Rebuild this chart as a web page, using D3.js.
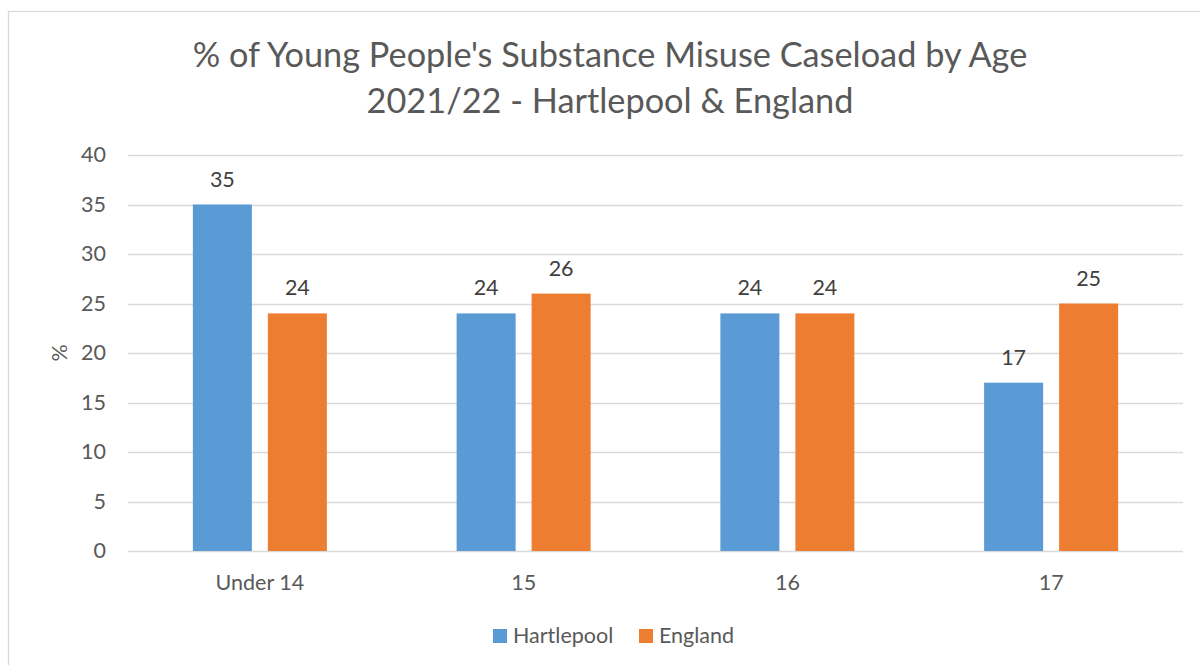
<!DOCTYPE html>
<html>
<head>
<meta charset="utf-8">
<script src="https://cdn.jsdelivr.net/npm/d3@7"></script>
<style>
  html, body { margin: 0; padding: 0; background: #fff; }
  svg { display: block; }
  text { font-family: Lato, "Open Sans", sans-serif; }
</style>
</head>
<body>
<svg id="chart" width="1200" height="665"></svg>
<script>
// Age groups and caseload shares (%)
const categories = ["Under 14", "15", "16", "17"];
const seriesNames = ["Hartlepool", "England"];
const hartlepool = [35, 24, 24, 17];
const england = [24, 26, 24, 25];
const yTicks = [0, 5, 10, 15, 20, 25, 30, 35, 40];
const colors = ["#5b9bd5", "#ed7d31"];

const svg = d3.select("#chart");
const plot = { left: 128, right: 1183, top: 155, bottom: 551 };
const labelFont = 21.5;

// outer chart frame
svg.append("rect")
  .attr("x", 8.5).attr("y", 11.5)
  .attr("width", 1200).attr("height", 700)
  .attr("fill", "#fff").attr("stroke", "#d9d9d9").attr("stroke-width", 1.3);

// title
const title = svg.append("text")
  .attr("text-anchor", "middle")
  .attr("fill", "#595959")
  .attr("font-size", 34.3);
title.append("tspan").attr("x", 610).attr("y", 67).text("% of Young People's Substance Misuse Caseload by Age");
title.append("tspan").attr("x", 610).attr("y", 113).text("2021/22 - Hartlepool & England");

const x = d3.scaleBand().domain(categories).range([plot.left, plot.right]);
const xInner = d3.scaleBand().domain(seriesNames)
  .range([0, x.bandwidth()]).paddingInner(0.213).paddingOuter(0.865);
const y = d3.scaleLinear().domain([0, 40]).range([plot.bottom, plot.top]);

// gridlines
svg.append("g").selectAll("line").data(yTicks).join("line")
  .attr("x1", plot.left).attr("x2", plot.right)
  .attr("y1", d => Math.round(y(d)) + 0.5).attr("y2", d => Math.round(y(d)) + 0.5)
  .attr("stroke", "#d9d9d9").attr("stroke-width", 1.3);

// y-axis labels
const yAxis = d3.axisLeft(y).tickValues(yTicks).tickSize(0).tickPadding(0);
const gy = svg.append("g").attr("transform", `translate(${plot.left - 22},0)`).call(yAxis);
gy.select(".domain").remove();
gy.selectAll("text").attr("font-size", labelFont).attr("fill", "#595959")
  .attr("font-family", "Lato, 'Open Sans', sans-serif");

// y-axis title
svg.append("text")
  .attr("transform", `translate(67,${(plot.top + plot.bottom) / 2}) rotate(-90)`)
  .attr("text-anchor", "middle").attr("font-size", labelFont).attr("fill", "#595959")
  .text("%");

// x-axis labels
const xAxis = d3.axisBottom(x).tickSize(0).tickPadding(24);
const gx = svg.append("g").attr("transform", `translate(0,${plot.bottom})`).call(xAxis);
gx.select(".domain").remove();
gx.selectAll("text").attr("font-size", labelFont).attr("fill", "#595959")
  .attr("font-family", "Lato, 'Open Sans', sans-serif");

// bars + value labels
const rows = categories.map((c, i) => ({ cat: c, values: [hartlepool[i], england[i]] }));
const groups = svg.append("g").selectAll("g").data(rows).join("g")
  .attr("transform", d => `translate(${x(d.cat)},0)`);

groups.selectAll("rect")
  .data(d => d.values.map((v, k) => ({ name: seriesNames[k], v, k })))
  .join("rect")
  .attr("x", d => xInner(d.name))
  .attr("width", xInner.bandwidth())
  .attr("y", d => y(d.v))
  .attr("height", d => y(0) - y(d.v))
  .attr("fill", d => colors[d.k]);

groups.selectAll("text.val")
  .data(d => d.values.map((v, k) => ({ name: seriesNames[k], v, k })))
  .join("text")
  .attr("class", "val")
  .attr("x", d => xInner(d.name) + xInner.bandwidth() / 2)
  .attr("y", d => y(d.v) - 18)
  .attr("text-anchor", "middle")
  .attr("font-size", labelFont).attr("fill", "#404040")
  .text(d => d.v);

// legend
const legendItems = [
  { name: "Hartlepool", x: 493 },
  { name: "England", x: 639 }
];
const lg = svg.append("g").selectAll("g").data(legendItems).join("g")
  .attr("transform", d => `translate(${d.x},629)`);
lg.append("rect").attr("width", 14).attr("height", 14)
  .attr("fill", (d, i) => colors[i]);
lg.append("text").attr("x", 20).attr("y", 14)
  .attr("font-size", labelFont).attr("fill", "#595959")
  .text(d => d.name);
</script>
</body>
</html>
